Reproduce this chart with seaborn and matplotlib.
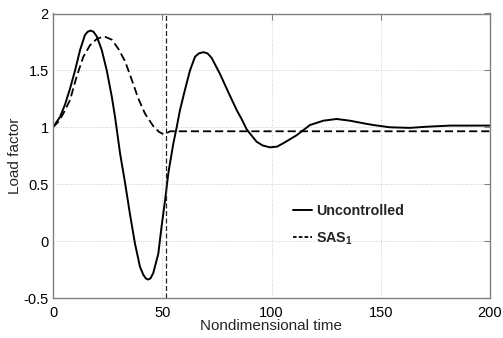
import matplotlib
matplotlib.use("Agg")
import matplotlib.pyplot as plt
import seaborn as sns
import pandas as pd
from matplotlib.lines import Line2D

# Load-factor response, uncontrolled aircraft
t_uncontrolled = [0, 3.2, 5.5, 7.8, 10.1, 12.4, 14.6, 15.9, 17.2, 18.5, 20.0, 22.3, 24.6,
                  26.9, 28.4, 30.7, 33.0, 35.2, 37.5, 39.8, 41.3, 42.5, 43.5, 44.6, 45.9,
                  48.2, 49.7, 51.3, 52.8, 55.1, 56.5, 58.1, 60.4, 62.7, 65.0, 66.8, 68.8,
                  70.7, 72.6, 76.4, 80.2, 84.1, 86.4, 88.7, 93.2, 96.0, 99.3, 102.5, 105.4,
                  111.5, 117.6, 123.7, 129.8, 135.9, 143.6, 146.6, 154.2, 163.4, 171.0,
                  181.7, 200.0]
load_uncontrolled = [1.00, 1.09, 1.20, 1.34, 1.50, 1.68, 1.81, 1.84, 1.85, 1.84, 1.80, 1.68, 1.50,
                     1.27, 1.09, 0.77, 0.51, 0.24, -0.02, -0.225, -0.295, -0.328, -0.338, -0.328, -0.28,
                     -0.11, 0.13, 0.36, 0.60, 0.86, 0.99, 1.15, 1.33, 1.50, 1.62, 1.65, 1.66,
                     1.65, 1.61, 1.47, 1.31, 1.15, 1.07, 0.98, 0.873, 0.84, 0.824, 0.83, 0.86,
                     0.93, 1.02, 1.058, 1.073, 1.058, 1.03, 1.02, 1.00, 0.995, 1.005,
                     1.015, 1.015]

# Load-factor response with stability augmentation SAS_1
t_sas = [0, 2.5, 4.7, 7.8, 10.8, 13.9, 16.9, 20.0, 23.3, 26.9, 29.9, 33.0, 36.0,
         39.0, 42.1, 45.9, 48.5, 50.5, 51.5, 53.6, 70.0, 100.0, 150.0, 200.0]
load_sas = [1.00, 1.05, 1.12, 1.24, 1.445, 1.62, 1.72, 1.776, 1.80, 1.77, 1.69, 1.58, 1.42,
            1.255, 1.12, 1.01, 0.96, 0.94, 0.945, 0.965, 0.965, 0.965, 0.965, 0.965]

# Time at which the augmentation switches in
switch_time = 51.5

x_ticks = [0, 50, 100, 150, 200]
y_ticks = [-0.5, 0, 0.5, 1, 1.5, 2]
y_ticklabels = ["-0.5", "0", "0.5", "1", "1.5", "2"]

sns.set_style("white")
plt.rcParams["font.family"] = ["Liberation Sans", "DejaVu Sans"]
plt.rcParams["axes.unicode_minus"] = False
plt.rcParams["mathtext.fontset"] = "custom"
plt.rcParams["mathtext.rm"] = "Liberation Sans:bold"
plt.rcParams["mathtext.default"] = "rm"

fig = plt.figure(figsize=(5.03, 3.38), dpi=100)
ax = fig.add_axes([53 / 503, 1 - 298 / 338, (490 - 53) / 503, (298 - 13.5) / 338])

df_unc = pd.DataFrame({"t": t_uncontrolled, "n": load_uncontrolled})
df_sas = pd.DataFrame({"t": t_sas, "n": load_sas})

sns.lineplot(data=df_unc, x="t", y="n", ax=ax, color="black", lw=1.4,
             sort=False, estimator=None)
sns.lineplot(data=df_sas, x="t", y="n", ax=ax, color="black", lw=1.3,
             sort=False, estimator=None, linestyle=(0, (4.5, 2.2)))
ax.axvline(switch_time, color="#222222", lw=0.9, linestyle=(0, (4, 2)))

ax.set_xlim(0, 200)
ax.set_ylim(-0.5, 2)
ax.set_xticks(x_ticks)
ax.set_yticks(y_ticks)
ax.set_yticklabels(y_ticklabels)

ax.grid(True, color="#bdbdbd", lw=0.6, linestyle=(0, (1, 2)))
for s in ax.spines.values():
    s.set_visible(True)
    s.set_color("#808080")
    s.set_linewidth(1.0)
ax.tick_params(axis="both", which="both", direction="in", length=4, width=0.8,
               color="#808080", top=True, right=True, labelsize=10.5, labelcolor="black")
ax.tick_params(axis="x", pad=6)
ax.tick_params(axis="y", pad=3)

ax.set_xlabel("Nondimensional time", fontsize=11, labelpad=-1)
ax.set_ylabel("Load factor", fontsize=11, labelpad=1)

handles = [Line2D([], [], color="black", lw=1.4),
           Line2D([], [], color="black", lw=1.3, linestyle=(0, (2, 1.2)))]
leg = fig.legend(handles, ["Uncontrolled", "SAS$_1$"], loc="upper left",
                 bbox_to_anchor=(293 / 503, 1 - 204 / 338), frameon=False,
                 handlelength=1.3, handletextpad=0.3, labelspacing=0.85,
                 borderpad=0, borderaxespad=0,
                 prop={"weight": "bold", "size": 10.3})

fig.savefig("out.png", dpi=100)
